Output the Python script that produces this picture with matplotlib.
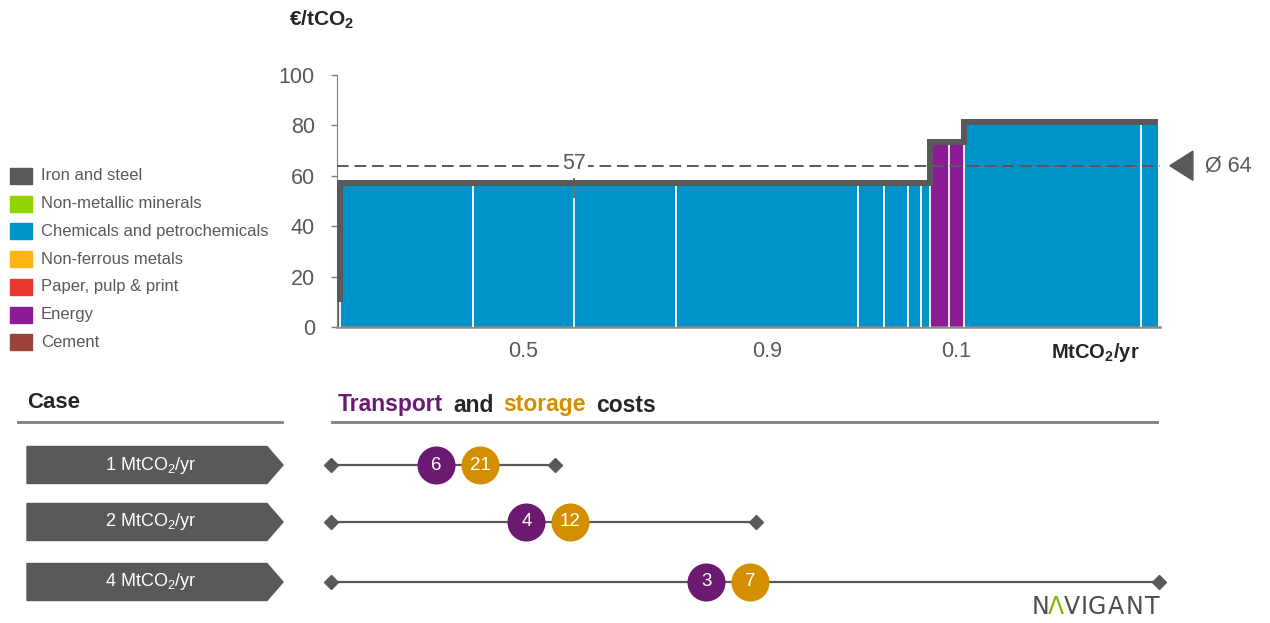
import matplotlib
matplotlib.use("Agg")
import matplotlib.pyplot as plt
import matplotlib.transforms as mtransforms
from matplotlib.patches import Rectangle, Polygon
import numpy as np

plt.rcParams['font.family'] = ['Liberation Sans', 'DejaVu Sans']
plt.rcParams['mathtext.fontset'] = 'custom'
plt.rcParams['mathtext.rm'] = 'Liberation Sans'
plt.rcParams['mathtext.it'] = 'Liberation Sans:italic'
plt.rcParams['mathtext.bf'] = 'Liberation Sans:bold'

##### data #####
sectors = ['Iron and steel', 'Non-metallic minerals', 'Chemicals and petrochemicals',
           'Non-ferrous metals', 'Paper, pulp & print', 'Energy', 'Cement']
sector_colors = ['#58595B', '#92D400', '#0093C9', '#FDB515', '#E8382F', '#8B1C96', '#9A4339']

# abatement cost curve: one entry per plant (width = MtCO2/yr, height = EUR/tCO2)
bar_width = [0.015, 0.66, 0.5, 0.51, 0.9, 0.13, 0.12, 0.066, 0.045, 0.09, 0.075, 0.88, 0.085]
bar_cost = [11, 57, 57, 57, 57, 57, 57, 57, 57, 73.5, 73.5, 81.5, 81.5]
bar_sector = ['Iron and steel'] + ['Chemicals and petrochemicals'] * 8 + ['Energy'] * 2 + \
             ['Chemicals and petrochemicals'] * 2
labelled_bars = [2, 4, 10]
avg_cost = 64

# transport & storage cases
case_volume = [1, 2, 4]
transport_cost = [6, 4, 3]
storage_cost = [21, 12, 7]

W, H = 1270, 623
grey_txt = '#595959'
dark = '#58595B'
purple = '#6B1A72'
orange = '#D48F00'

fig = plt.figure(figsize=(W / 100, H / 100), dpi=100)

##### cost curve #####
ax = fig.add_axes([337 / W, 1 - 327 / H, 823 / W, 252 / H])
widths = np.array(bar_width)
costs = np.array(bar_cost)
lefts = np.concatenate([[0], np.cumsum(widths)[:-1]])
total = widths.sum()
colors = [sector_colors[sectors.index(s)] for s in bar_sector]

ax.bar(lefts, costs, width=widths, align='edge', color=colors, linewidth=0, zorder=2)
# white separators between plants
for i in range(1, len(widths)):
    ax.vlines(lefts[i], 0, min(costs[i - 1], costs[i]), color='white', lw=1.3, zorder=3)

# outline of the curve
xs = np.concatenate([lefts, [total]])
ys = np.concatenate([costs, [costs[-1]]])
ax.step(xs, ys, where='post', color=dark, lw=4.3, solid_joinstyle='miter',
        solid_capstyle='butt', zorder=4, clip_on=False)

# average line
ax.axhline(avg_cost, color=grey_txt, lw=1.4, dashes=(6, 3), zorder=5)
ax.vlines(lefts[3], 51, 59, color=dark, lw=1.2, zorder=5)
ax.text(lefts[3], avg_cost + 0.8, f'{bar_cost[1]:g}', ha='center', va='center', fontsize=15.5,
        color=grey_txt, zorder=6,
        bbox=dict(facecolor='white', edgecolor='none', pad=1.5))

trans = mtransforms.blended_transform_factory(ax.transAxes, ax.transData)
tri = Polygon([(1.012, avg_cost), (1.040, avg_cost + 5.8), (1.040, avg_cost - 5.8)],
              closed=True, color=dark, transform=trans, clip_on=False)
ax.add_patch(tri)
ax.text(1.0547, avg_cost, f'Ø {avg_cost}', transform=trans, ha='left', va='center',
        fontsize=15.5, color=grey_txt)

trans_x = mtransforms.blended_transform_factory(ax.transData, ax.transAxes)
for i in labelled_bars:
    ax.text(lefts[i] + widths[i] / 2, -0.099, f'{widths[i]:.1f}', transform=trans_x,
            ha='center', va='center', fontsize=15.5, color=grey_txt)

ax.set_xlim(0, total + 0.01)
ax.set_ylim(0, 100)
ax.set_yticks([0, 20, 40, 60, 80, 100])
ax.set_xticks([])
ax.tick_params(axis='y', length=4, width=1, color='#7f7f7f', pad=12, labelsize=15.5,
               labelcolor=grey_txt)
for s in ['top', 'right']:
    ax.spines[s].set_visible(False)
ax.spines['left'].set_color('#7f7f7f')
ax.spines['bottom'].set_color('#8c8c8c')
ax.spines['bottom'].set_linewidth(1.8)
ax.patch.set_visible(False)

fig.text(322 / W, 1 - 20 / H, r'€/tCO$_\mathbf{2}$', ha='center', va='center',
         fontsize=15, fontweight='bold', color='#262626')
fig.text(1095 / W, 1 - 352 / H, r'MtCO$_\mathbf{2}$/yr', ha='center', va='center',
         fontsize=14.5, fontweight='bold', color='#262626')

##### canvas for legend / lower panel #####
cv = fig.add_axes([0, 0, 1, 1], zorder=-1)
cv.set_xlim(0, W)
cv.set_ylim(H, 0)
cv.set_axis_off()

for i, (name, col) in enumerate(zip(sectors, sector_colors)):
    yc = 176 + 27.7 * i
    cv.add_patch(Rectangle((10, yc - 8), 22, 16, color=col))
    cv.text(41, yc, name, ha='left', va='center', fontsize=12, color=grey_txt)

# headers
cv.text(27, 402, 'Case', ha='left', va='center', fontsize=16, fontweight='bold',
        color='#262626')
cv.plot([18, 282], [422, 422], color='#7f7f7f', lw=2)
cv.plot([332, 1157], [422, 422], color='#7f7f7f', lw=2)

fig.canvas.draw()
renderer = fig.canvas.get_renderer()
x = 338
for word, col in [('Transport', purple), ('and', '#262626'), ('storage', orange), ('costs', '#262626')]:
    t = cv.text(x, 405, word, ha='left', va='center', fontsize=16.5, fontweight='bold', color=col)
    bb = t.get_window_extent(renderer)
    x += bb.width + 10

# case arrows
row_y = [465, 522, 582]
for v, yc in zip(case_volume, row_y):
    cv.add_patch(Polygon([(27, yc - 18.5), (267, yc - 18.5), (283, yc), (267, yc + 18.5),
                          (27, yc + 18.5)], closed=True, color=dark))
    cv.text(151, yc, f'{v} MtCO$_2$/yr', ha='center', va='center', fontsize=13, color='white')

# transport and storage ranges, sharing the MtCO2 scale of the curve
axb = fig.add_axes([337 / W, 0, 823 / W, 183 / H], sharex=ax)
axb.set_ylim(623, 440)
axb.set_axis_off()
axb.patch.set_visible(False)
for v, yc, tc, sc in zip(case_volume, row_y, transport_cost, storage_cost):
    start, end = -0.03, v + 0.08
    axb.plot([start, end], [yc, yc], color=dark, lw=1.6, marker='D', markersize=7,
             clip_on=False, zorder=1)
    mid = 0.155 + 0.447 * v  # position of the bubble pair
    axb.scatter([mid - 0.109], [yc], s=750, color=purple, zorder=2, clip_on=False, linewidths=0)
    axb.scatter([mid + 0.109], [yc], s=750, color=orange, zorder=2, clip_on=False, linewidths=0)
    axb.text(mid - 0.109, yc, str(tc), ha='center', va='center', fontsize=13.5, color='white', zorder=3)
    axb.text(mid + 0.109, yc, str(sc), ha='center', va='center', fontsize=13.5, color='white', zorder=3)

# logo
for ch, xc in zip('NΛVIGANT', [1041, 1056, 1072, 1084, 1097, 1116, 1134, 1152]):
    cv.text(xc, 607, ch, ha='center', va='center', fontsize=17, family=['DejaVu Sans'],
            fontweight='normal', color='#7AB800' if ch == 'Λ' else '#4d4e50')

fig.savefig('out.png', dpi=100)
